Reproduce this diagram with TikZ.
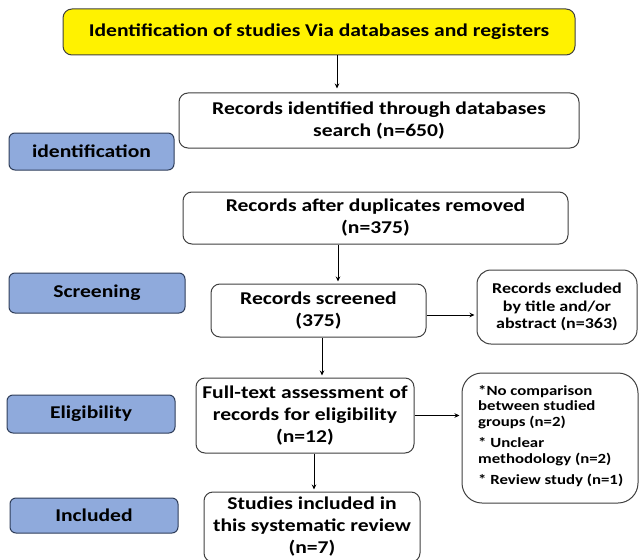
\documentclass[tikz,border=0pt]{standalone}
\usepackage{fontspec}
\setmainfont[FakeStretch=1.2]{Carlito}
\usetikzlibrary{arrows.meta,calc}
\definecolor{bluefill}{HTML}{8FAADC}
\definecolor{blueline}{HTML}{2F3E5A}
\definecolor{boxline}{HTML}{404040}
\tikzset{
  box/.style={draw=boxline, line width=1pt, rounded corners=9pt, fill=white, align=center, inner sep=0pt, font=\fontsize{18}{22}\selectfont\bfseries},
  stagebox/.style={draw=blueline, line width=1pt, rounded corners=6pt, fill=bluefill, align=center, inner sep=0pt, font=\fontsize{18}{22}\selectfont\bfseries},
  arr/.style={draw=black, line width=0.8pt, -{Stealth[length=5pt,width=4.5pt]}, shorten >=2pt}
}
\begin{document}
\begin{tikzpicture}[x=1pt,y=-1pt]
\useasboundingbox (0,0) rectangle (639,559);
% main boxes
\node[box, fill=yellow, minimum width=512pt, minimum height=46pt] (title) at (319,32) {Identification of studies Via databases and registers};
\node[box, minimum width=400pt, minimum height=55pt] (rid) at (379,120.5) {Records identified through databases\\search (n=650)};
\node[box, minimum width=385pt, minimum height=52pt] (dup) at (375.5,218) {Records after duplicates removed\\(n=375)};
\node[box, minimum width=215pt, minimum height=53pt] (scr) at (318.5,310.5) {Records screened\\(375)};
\node[box, rounded corners=14pt, minimum width=160pt, minimum height=74pt, font=\fontsize{15}{17.5}\selectfont\bfseries] (exc1) at (557,307) {Records excluded\\by title and/or\\abstract (n=363)};
\node[box, minimum width=218pt, minimum height=75pt] (full) at (305,415.5) {Full-text assessment of\\records for eligibility\\(n=12)};
\node[box, rounded corners=20pt, minimum width=176pt, minimum height=130pt] (exc2) at (550,438) {};
\node[anchor=north west, align=left, inner sep=0pt, font=\fontsize{14}{15.5}\selectfont\bfseries] (exc2txt) at (478,385) {*No comparison\\between studied\\groups (n=2)\\[6pt]* Unclear\\methodology (n=2)\\[6pt]* Review study (n=1)};
\node[box, minimum width=216pt, minimum height=70pt] (stud) at (312,527) {Studies included in\\this systematic review\\(n=7)};
% stage labels
\node[stagebox, minimum width=165pt, minimum height=37pt] (sid) at (91.5,151.5) {identification};
\node[stagebox, minimum width=176pt, minimum height=40pt] (sscr) at (97,293) {Screening};
\node[stagebox, minimum width=168pt, minimum height=38pt] (selig) at (91,414) {Eligibility};
\node[stagebox, minimum width=168pt, minimum height=35pt] (sinc) at (94,515.5) {Included};
% arrows
\draw[arr, shorten >=4pt] ([xshift=18pt]title.south) -- ([xshift=18pt]title.south |- rid.north);
\draw[arr] ([xshift=19.5pt]scr.north |- dup.south) -- ([xshift=19.5pt]scr.north);
\draw[arr] ([yshift=-4.5pt]scr.east) -- ([yshift=-4.5pt]scr.east -| exc1.west);
\draw[arr] ([xshift=3.5pt]scr.south) -- ([xshift=3.5pt]scr.south |- full.north);
\draw[arr] (full.east) -- (full.east -| exc2.west);
\draw[arr] ([xshift=9pt]full.south) -- ([xshift=9pt]full.south |- stud.north);
\end{tikzpicture}
\end{document}
